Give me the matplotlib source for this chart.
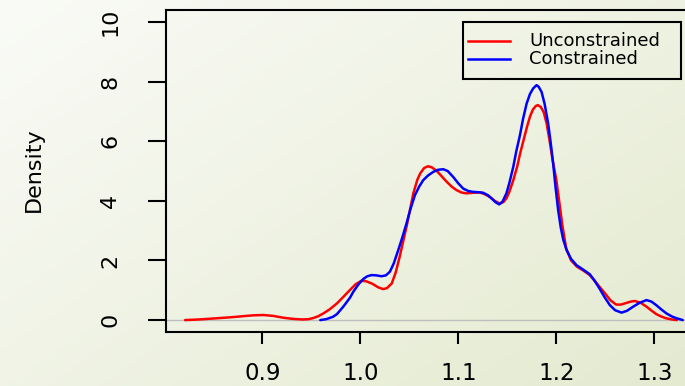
import numpy as np
import matplotlib
matplotlib.use("Agg")
import matplotlib.pyplot as plt
from matplotlib.patches import Rectangle
from matplotlib.lines import Line2D

# ---------------- data ----------------
series_labels = ["Unconstrained", "Constrained"]
series_colors = ["#ff0000", "#0000ff"]

x_uncon = [0.821, 0.835, 0.853, 0.870, 0.880, 0.891, 0.901, 0.911, 0.921, 0.931,
           0.941, 0.947, 0.952, 0.957, 0.962, 0.969, 0.976, 0.982, 0.989, 0.995,
           1.001, 1.006, 1.012, 1.018, 1.023, 1.027, 1.032, 1.036, 1.040, 1.047,
           1.054, 1.058, 1.061, 1.065, 1.069, 1.073, 1.078, 1.083, 1.088, 1.093,
           1.098, 1.103, 1.108, 1.115, 1.122, 1.127, 1.132, 1.137, 1.142, 1.146,
           1.149, 1.152, 1.156, 1.160, 1.163, 1.167, 1.170, 1.173, 1.176, 1.179,
           1.181, 1.184, 1.187, 1.190, 1.193, 1.196, 1.200, 1.203, 1.206, 1.210,
           1.215, 1.221, 1.228, 1.234, 1.239, 1.244, 1.250, 1.255, 1.261, 1.266,
           1.272, 1.276, 1.280, 1.286, 1.292, 1.297, 1.302, 1.307, 1.312, 1.318,
           1.323]
y_uncon = [0.00, 0.02, 0.06, 0.10, 0.13, 0.16, 0.17, 0.14, 0.08, 0.04,
           0.02, 0.03, 0.07, 0.13, 0.22, 0.37, 0.56, 0.76, 1.00, 1.20,
           1.32, 1.30, 1.22, 1.10, 1.04, 1.07, 1.23, 1.60, 2.12, 3.13,
           4.25, 4.70, 4.92, 5.10, 5.16, 5.12, 5.00, 4.82, 4.64, 4.48,
           4.36, 4.28, 4.25, 4.27, 4.28, 4.22, 4.13, 4.00, 3.91, 3.96,
           4.08, 4.30, 4.69, 5.15, 5.59, 6.10, 6.48, 6.82, 7.06, 7.18,
           7.21, 7.15, 6.98, 6.60, 6.03, 5.40, 4.69, 3.95, 3.20, 2.40,
           2.00, 1.79, 1.65, 1.51, 1.32, 1.12, 0.88, 0.67, 0.52, 0.52,
           0.58, 0.62, 0.64, 0.58, 0.45, 0.32, 0.20, 0.12, 0.06, 0.02,
           0.00]

x_con = [0.959, 0.965, 0.972, 0.976, 0.9825, 0.9893, 0.9927, 0.998, 1.003, 1.007,
         1.0114, 1.016, 1.0216, 1.026, 1.030, 1.034, 1.0386, 1.043, 1.047, 1.051,
         1.0556, 1.060, 1.064, 1.069, 1.0743, 1.079, 1.0845, 1.089, 1.0947, 1.100,
         1.1049, 1.110, 1.115, 1.120, 1.1253, 1.130, 1.1339, 1.138, 1.1416, 1.145,
         1.149, 1.152, 1.156, 1.159, 1.1628, 1.166, 1.1696, 1.173, 1.1763, 1.1798,
         1.182, 1.1849, 1.188, 1.1916, 1.194, 1.1967, 1.199, 1.2018, 1.2045, 1.207,
         1.2104, 1.215, 1.2206, 1.227, 1.234, 1.239, 1.244, 1.249, 1.2546, 1.260,
         1.2665, 1.272, 1.2784, 1.285, 1.292, 1.297, 1.302, 1.307, 1.3125, 1.318,
         1.3227, 1.329]
y_con = [0.00, 0.03, 0.11, 0.20, 0.45, 0.75, 0.95, 1.20, 1.38, 1.47,
         1.51, 1.50, 1.47, 1.50, 1.62, 1.90, 2.35, 2.80, 3.24, 3.72,
         4.19, 4.48, 4.69, 4.85, 4.97, 5.04, 5.06, 5.00, 4.80, 4.58,
         4.41, 4.33, 4.30, 4.29, 4.27, 4.19, 4.08, 3.95, 3.88, 3.97,
         4.25, 4.60, 5.14, 5.65, 6.20, 6.75, 7.26, 7.58, 7.77, 7.88,
         7.82, 7.65, 7.25, 6.59, 6.00, 5.25, 4.50, 3.69, 3.10, 2.70,
         2.35, 2.05, 1.84, 1.70, 1.54, 1.32, 1.06, 0.78, 0.50, 0.33,
         0.25, 0.31, 0.45, 0.58, 0.67, 0.62, 0.50, 0.36, 0.22, 0.12,
         0.06, 0.00]

x_ticks = [0.9, 1.0, 1.1, 1.2, 1.3]
x_ticklabels = ["0.9", "1.0", "1.1", "1.2", "1.3"]
y_ticks = [0, 2, 4, 6, 8, 10]
y_ticklabels = ["0", "2", "4", "6", "8", "10"]
y_label = "Density"

# ---------------- figure ----------------
W, H = 685, 386
plt.rcParams['font.family'] = ['DejaVu Sans']
fig = plt.figure(figsize=(W / 100, H / 100), dpi=100)

# background gradient
bg = fig.add_axes([0, 0, 1, 1], zorder=-10)
gx = np.linspace(0, 1, 300)[None, :]
gy = np.linspace(0, 1, 200)[:, None]
t = np.clip(0.55 * gx + 0.45 * gy, 0, 1)
c0 = np.array([250, 251, 247]) / 255.0
c1 = np.array([228, 234, 208]) / 255.0
img = c0[None, None, :] * (1 - t[..., None]) + c1[None, None, :] * t[..., None]
bg.imshow(img, extent=[0, 1, 0, 1], aspect='auto', origin='upper')
bg.set_xlim(0, 1); bg.set_ylim(0, 1)
bg.axis('off')

def fx(px):
    return px / W

def fy(py):
    return 1 - py / H

left_px, right_px, top_px, bot_px = 166, 719, 10, 332
ax = fig.add_axes([fx(left_px), fy(bot_px), (right_px - left_px) / W, (bot_px - top_px) / H])
ax.patch.set_alpha(0)
ax.set_xlim(0.8015, 1.366)
ax.set_ylim(-0.4, 10.4)

ax.axhline(0, color="#bebebe", lw=1.0, zorder=1)
ax.plot(x_uncon, y_uncon, color=series_colors[0], lw=1.8, zorder=2,
        solid_joinstyle='round', solid_capstyle='round')
ax.plot(x_con, y_con, color=series_colors[1], lw=1.8, zorder=3,
        solid_joinstyle='round', solid_capstyle='round')

for s in ax.spines.values():
    s.set_linewidth(1.5)
    s.set_color('black')

ax.set_xticks(x_ticks)
ax.set_xticklabels(x_ticklabels)
ax.set_yticks(y_ticks)
ax.set_yticklabels(y_ticklabels, rotation=90, va='center')
ax.tick_params(axis='x', direction='out', length=8.6, width=1.5, pad=13, labelsize=16.5)
ax.tick_params(axis='y', direction='out', length=13, width=1.5, pad=20, labelsize=16)

fig.text(fx(33.5), fy(170), y_label, rotation=90, ha='center', va='center', fontsize=16)

# legend (manual, R style)
fig.patches.append(Rectangle((fx(463), fy(79)), (681 - 463) / W, (79 - 22) / H,
                             transform=fig.transFigure, fill=False, edgecolor='black',
                             linewidth=1.5, zorder=5))
for i, (lab, col) in enumerate(zip(series_labels, series_colors)):
    yy = 41 + 18 * i
    fig.lines.append(Line2D([fx(468), fx(510)], [fy(yy), fy(yy)], transform=fig.transFigure,
                            color=col, lw=1.8, zorder=5))
    fig.text(fx(529), fy(yy), lab, ha='left', va='center', fontsize=13, zorder=6)

fig.savefig("out.png", dpi=100)
